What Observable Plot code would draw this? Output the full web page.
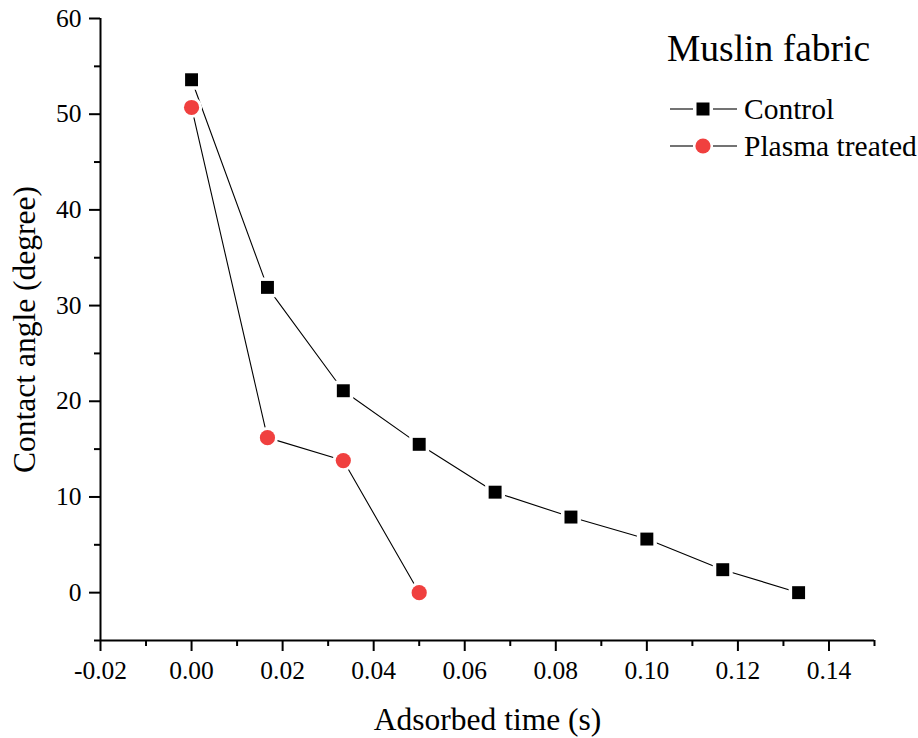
<!DOCTYPE html>
<html>
<head>
<meta charset="utf-8">
<script src="https://cdn.jsdelivr.net/npm/d3@7"></script>
<script src="https://cdn.jsdelivr.net/npm/@observablehq/plot@0.6"></script>
<style>
  html, body { margin: 0; padding: 0; background: #fff; }
  #wrap { position: relative; width: 918px; height: 738px; font-family: "Liberation Serif", "Times New Roman", serif; }
  #legend { position: absolute; left: 0; top: 0; pointer-events: none; }
  #chart text { fill: #000; }
</style>
</head>
<body>
<div id="wrap">
  <div id="chart"></div>
  <svg id="legend" width="918" height="738"></svg>
</div>
<script>
// ---- data ----
const controlTime = [0, 0.01667, 0.03333, 0.05, 0.06667, 0.08333, 0.1, 0.11667, 0.13333];
const controlAngle = [53.6, 31.9, 21.1, 15.5, 10.5, 7.9, 5.6, 2.4, 0];
const plasmaTime = [0, 0.01667, 0.03333, 0.05];
const plasmaAngle = [50.7, 16.2, 13.8, 0];
const seriesNames = ["Control", "Plasma treated"];
const seriesColors = ["#000000", "#f0403f"];
const legendTitle = "Muslin fabric";
const xTickValues = [-0.02, 0, 0.02, 0.04, 0.06, 0.08, 0.10, 0.12, 0.14];
const xMinorValues = [-0.01, 0.01, 0.03, 0.05, 0.07, 0.09, 0.11, 0.13, 0.15];
const yTickValues = [0, 10, 20, 30, 40, 50, 60];
const yMinorValues = [-5, 5, 15, 25, 35, 45, 55];

const control = controlTime.map((t, i) => ({t, a: controlAngle[i]}));
const plasma = plasmaTime.map((t, i) => ({t, a: plasmaAngle[i]}));

const chart = Plot.plot({
  width: 918,
  height: 738,
  marginLeft: 100,
  marginRight: 44,
  marginTop: 18,
  marginBottom: 98,
  style: {fontFamily: "Liberation Serif, Times New Roman, serif", color: "#000", background: "#fff"},
  x: {domain: [-0.02, 0.15]},
  y: {domain: [-5, 60]},
  marks: [
    Plot.axisX({ticks: xMinorValues, tickSize: 6, text: null, strokeWidth: 2, label: null}),
    Plot.axisY({ticks: yMinorValues, tickSize: 6, text: null, strokeWidth: 2, label: null}),
    Plot.axisX({ticks: xTickValues, tickSize: 11, tickPadding: 9, strokeWidth: 2,
      tickFormat: d => d.toFixed(2), label: null}),
    Plot.axisY({ticks: yTickValues, tickSize: 11, tickPadding: 8, strokeWidth: 2,
      tickFormat: d => String(d), label: null}),
    Plot.axisX({ticks: [], label: "Adsorbed time (s)", labelAnchor: "center", labelArrow: "none", labelOffset: 89}),
    Plot.axisY({ticks: [], label: "Contact angle (degree)", labelAnchor: "center", labelArrow: "none", labelOffset: 88}),
    Plot.ruleX([-0.02], {stroke: "#000", strokeWidth: 2}),
    Plot.ruleY([-5], {stroke: "#000", strokeWidth: 2}),
    Plot.line(control, {x: "t", y: "a", stroke: "#000", strokeWidth: 1.1}),
    Plot.line(plasma, {x: "t", y: "a", stroke: "#000", strokeWidth: 1.1}),
    Plot.dot(control, {x: "t", y: "a", symbol: "square", r: 7.3, fill: seriesColors[0], stroke: "#fff", strokeWidth: 7, paintOrder: "stroke"}),
    Plot.dot(plasma, {x: "t", y: "a", symbol: "circle", r: 7.6, fill: seriesColors[1], stroke: "#fff", strokeWidth: 6, paintOrder: "stroke"})
  ]
});
// set font sizes robustly
chart.querySelectorAll("text").forEach(t => {
  const g = t.closest("g[aria-label]");
  const lab = g ? g.getAttribute("aria-label") : "";
  const size = /axis label$/.test(lab) ? "31.5px" : "25.5px";
  t.setAttribute("font-size", size);
  t.style.fontSize = size;
});
document.getElementById("chart").appendChild(chart);

// legend overlay (layout positions only)
const lg = d3.select("#legend").style("font-family", "Liberation Serif, Times New Roman, serif");
lg.append("text").attr("x", 667).attr("y", 61).attr("font-size", 37.5).attr("fill", "#000").text(legendTitle);
seriesNames.forEach((name, i) => {
  const cy = 109 + i * 37;
  const g = lg.append("g");
  g.append("line").attr("x1", 670).attr("x2", 693).attr("y1", cy).attr("y2", cy).attr("stroke", "#000").attr("stroke-width", 1.1);
  g.append("line").attr("x1", 713).attr("x2", 737).attr("y1", cy).attr("y2", cy).attr("stroke", "#000").attr("stroke-width", 1.1);
  if (i === 0) g.append("rect").attr("x", 696.5).attr("y", cy - 6.5).attr("width", 13).attr("height", 13).attr("fill", seriesColors[0]);
  else g.append("circle").attr("cx", 703).attr("cy", cy).attr("r", 7.6).attr("fill", seriesColors[1]);
  g.append("text").attr("x", 744).attr("y", cy).attr("dy", "0.35em").attr("font-size", 29.5).attr("fill", "#000").text(name);
});
</script>
</body>
</html>
